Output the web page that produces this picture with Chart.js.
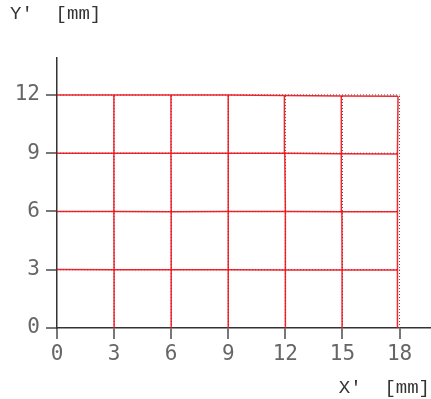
<!DOCTYPE html>
<html>
<head>
<meta charset="utf-8">
<script src="https://cdn.jsdelivr.net/npm/chart.js@4"></script>
<style>
    body { margin: 0; background: #fff; }
</style>
</head>
<body>
<canvas id="gridChart" width="431" height="399"></canvas>
<script>
// Nominal grid (mm)
const xTicks = [0, 3, 6, 9, 12, 15, 18];
const yTicks = [0, 3, 6, 9, 12];

// Measured node positions, one row per nominal Y (0, 3, 6, 9, 12)
const nodeX = [
    [0, 3.00, 6.00, 9.00, 12.00, 14.98, 17.88],
    [0, 3.00, 6.00, 9.00, 12.00, 14.98, 17.88],
    [0, 2.99, 6.00, 9.00, 12.00, 14.97, 17.89],
    [0, 2.99, 5.99, 9.00, 11.97, 14.95, 17.90],
    [0, 2.99, 5.99, 8.99, 11.95, 14.93, 17.92]
];
const nodeY = [
    [0, 0, 0, 0, 0, 0, 0],
    [3.01, 3.00, 3.00, 3.00, 2.99, 2.98, 2.98],
    [6.00, 6.00, 5.99, 6.00, 6.00, 5.98, 5.98],
    [9.00, 9.00, 9.00, 8.99, 9.00, 8.97, 8.96],
    [12.00, 12.00, 12.00, 12.00, 11.97, 11.95, 11.93]
];

const xLabel = "X'  [mm]";
const yLabel = "Y'  [mm]";

const titleFont = 'Liberation Mono';
const tickFont = 'DejaVu Sans Mono';
const datasets = [];

function addLine(points, color, width, dash) {
    datasets.push({
        data: points,
        borderColor: color,
        borderWidth: width,
        borderDash: dash,
        pointRadius: 0,
        fill: false,
        tension: 0
    });
}

// measured red grid (drawn on top)
for (let r = 1; r < yTicks.length; r++) {
    addLine(nodeX[r].map((x, c) => ({ x: x, y: nodeY[r][c] })), 'rgba(240,10,20,0.88)', 1.5, []);
}
for (let c = 1; c < xTicks.length; c++) {
    addLine(nodeX.map((row, r) => ({ x: row[c], y: nodeY[r][c] })), 'rgba(240,10,20,0.88)', 1.5, []);
}

// nominal dotted grid
yTicks.slice(1).forEach(y => {
    addLine([{ x: xTicks[0], y: y }, { x: xTicks[xTicks.length - 1], y: y }], '#555', 1, [1, 2]);
});
xTicks.slice(1).forEach(x => {
    addLine([{ x: x, y: yTicks[0] }, { x: x, y: yTicks[yTicks.length - 1] }], '#555', 1, [1, 2]);
});

new Chart(document.getElementById('gridChart'), {
    type: 'line',
    data: { datasets: datasets },
    options: {
        responsive: false,
        animation: false,
        layout: { padding: { left: 10, right: 1, top: 0, bottom: 0 } },
        plugins: {
            legend: { display: false },
            tooltip: { enabled: false },
            title: {
                display: true,
                text: yLabel,
                align: 'start',
                color: '#333',
                font: { family: titleFont, size: 19, weight: 'normal' },
                padding: { top: 3, bottom: 32.2 }
            }
        },
        scales: {
            x: {
                type: 'linear',
                min: 0,
                max: 19.6,
                afterFit: s => { s.height = 71; },
                ticks: {
                    stepSize: 3,
                    includeBounds: false,
                    color: '#666',
                    padding: 3,
                    maxRotation: 0,
                    font: { family: tickFont, size: 21 }
                },
                grid: { drawOnChartArea: false, drawTicks: true, tickLength: 11, color: '#777', lineWidth: 2 },
                border: { color: '#333', width: 1.5 },
                title: {
                    display: true,
                    text: xLabel,
                    align: 'end',
                    color: '#333',
                    font: { family: titleFont, size: 19 },
                    padding: { top: 0, bottom: 0 }
                }
            },
            y: {
                type: 'linear',
                min: 0,
                max: 13.9,
                afterFit: s => { s.width = 47; },
                ticks: {
                    stepSize: 3,
                    includeBounds: false,
                    color: '#666',
                    padding: 6,
                    font: { family: tickFont, size: 21 }
                },
                grid: { drawOnChartArea: false, drawTicks: true, tickLength: 11, color: '#777', lineWidth: 2 },
                border: { color: '#333', width: 1.5 }
            }
        }
    }
});
</script>
</body>
</html>
